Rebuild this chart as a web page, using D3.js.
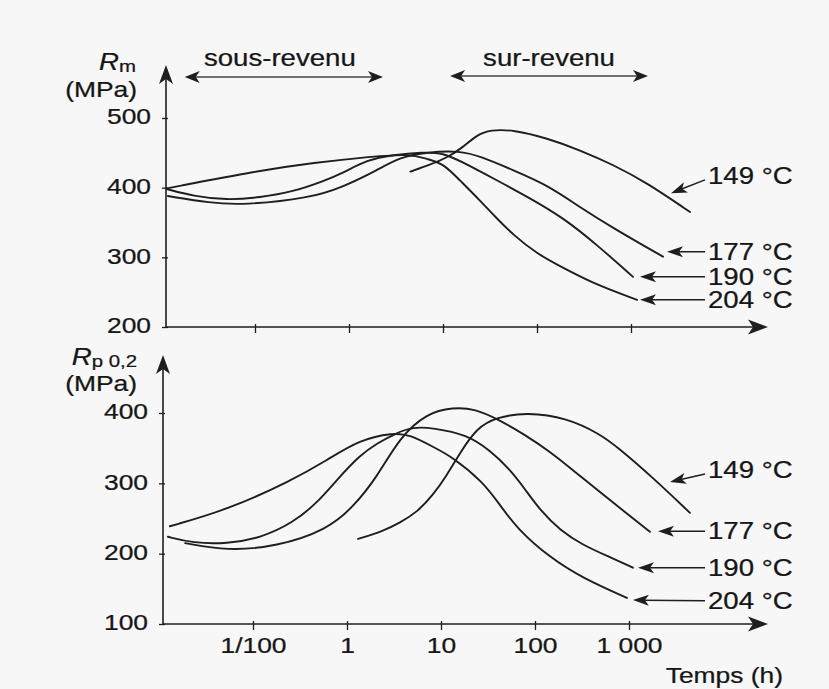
<!DOCTYPE html>
<html><head><meta charset="utf-8">
<script src="https://cdn.jsdelivr.net/npm/d3@7"></script>
<style>
html,body{margin:0;padding:0;background:#f7f7f7;}
svg{display:block;}
text{font-family:"Liberation Sans",Arial,Helvetica,sans-serif;fill:#161616;stroke:#161616;stroke-width:0.25px;}
</style></head><body>
<svg id="chart" width="829" height="689"></svg>
<script>
// ---------- data ----------
const tickTimes = [0.01, 1, 10, 100, 1000];
const tickTimeLabels = ["1/100", "1", "10", "100", "1 000"];
const temperatures = ["149 °C", "177 °C", "190 °C", "204 °C"];
const rmTicks = [200, 300, 400, 500];
const rpTicks = [100, 200, 300, 400];

// Rm (MPa) versus time (h)
const rm149 = [[4.5,423],[7.3,433],[11,443],[16,457],[23,476],[32,483],[56,483],[128,471],[286,454],[644,433],[1480,407],[4250,365]];
const rm177 = [[1.4e-4,388],[1.1e-3,378],[5.6e-3,375],[0.148,385],[0.745,401],[1.99,425],[3.49,444],[6.8,451],[15,453],[25,445],[56,425],[128,404],[286,372],[644,342],[2190,301]];
const rm190 = [[1.34e-4,398],[4.8e-4,388],[2.5e-3,382],[0.0128,386],[0.064,394],[0.3,410],[0.745,421],[1.55,440],[2.94,447],[6.1,451],[10,450],[16,437],[37,411],[84,385],[189,357],[435,318],[1050,272]];
const rm204 = [[1.34e-4,399],[0.0128,425],[0.2,436],[1.31,443],[4.46,449],[6.8,441],[10,435],[15,411],[25,381],[36,358],[56,332],[100,305],[189,285],[435,260],[1160,239]];

// Rp0,2 (MPa) versus time (h)
const rp149 = [[1.31,221],[2.41,232],[3.66,244],[5.56,259],[8.2,283],[11.6,312],[15.9,343],[24,379],[39,394],[82,401],[219,393],[491,370],[745,352],[1800,308],[4450,258]];
const rp177 = [[3.6e-4,215],[2.8e-3,204],[0.032,210],[0.375,234],[1.16,266],[2.09,309],[3.66,366],[7.1,400],[13.4,408],[23,406],[42,390],[78,369],[145,345],[267,316],[491,288],[906,259],[1670,231]];
const rp190 = [[1.55e-4,224],[5.3e-4,215],[2.8e-3,214],[0.0141,222],[0.071,244],[0.23,272],[0.61,305],[1.37,340],[2.09,357],[3.4,372],[5,380],[8.2,379],[19,369],[33,347],[54,320],[78,292],[113,262],[185,233],[324,212],[628,195],[1100,180]];
const rp204 = [[1.7e-4,239],[2.8e-3,262],[0.071,305],[0.375,333],[1.37,362],[3.09,372],[4.68,369],[8.2,352],[13.4,337],[28,302],[42,270],[64,236],[145,194],[324,165],[950,137]];

// label arrows: tip (h, MPa) and label level (MPa)
const rmLabelTips = [[2665,392],[2415,308],[1247,272],[1247,239]];
const rmLabelLevels = [417, 308, 272, 239];
const rpLabelTips = [[2730,302],[2035,232],[1247,180],[1100,134]];
const rpLabelLevels = [319, 232, 180, 133];

// regime ranges (h)
const regimeNames = ["sous-revenu", "sur-revenu"];
const regimeRanges = [[3.2e-4, 2.3], [11.9, 1515]];

// ---------- drawing ----------
const svg = d3.select("#chart");
const INK = "#1e1e1e";
const SX = 1.2; // horizontal stretch of the scanned lettering

function dart(g, x, y, angle, len, hw, notch) {
  g.append("path")
    .attr("d", `M0,0L${-len},${-hw}L${-len + notch},0L${-len},${hw}Z`)
    .attr("transform", `translate(${x},${y}) rotate(${angle})`)
    .attr("fill", INK);
}
function label(g, str, x, y, anchor, size) {
  return g.append("text")
    .attr("transform", `translate(${x},${y}) scale(${SX},1)`)
    .attr("text-anchor", anchor)
    .attr("font-size", size)
    .text(str);
}

const panels = [
  {
    series: [rm149, rm177, rm190, rm204],
    tips: rmLabelTips, levels: rmLabelLevels,
    yDomain: [200, 500], yRange: [327, 118], yTicks: rmTicks,
    xRange: [255, 349, 443, 537, 631],
    axisX: 166, arrowTop: 65, xLabels: false
  },
  {
    series: [rp149, rp177, rp190, rp204],
    tips: rpLabelTips, levels: rpLabelLevels,
    yDomain: [100, 400], yRange: [624, 413], yTicks: rpTicks,
    xRange: [253, 347, 441, 535, 629],
    axisX: 163, arrowTop: 355, xLabels: true
  }
];

const xArrowEnd = 768;
const labelX = 708;

panels.forEach((p, pi) => {
  const g = svg.append("g");
  const x = d3.scaleLog().domain(tickTimes).range(p.xRange);
  const y = d3.scaleLinear().domain(p.yDomain).range(p.yRange);
  const base = p.yRange[0];
  p.x = x; p.y = y;

  // axes lines + arrows
  g.append("line").attr("x1", p.axisX).attr("y1", base).attr("x2", p.axisX).attr("y2", p.arrowTop + 8)
    .attr("stroke", INK).attr("stroke-width", 1.6);
  dart(g, p.axisX, p.arrowTop, -90, 19, 7, 5);
  g.append("line").attr("x1", p.axisX).attr("y1", base).attr("x2", xArrowEnd - 8).attr("y2", base)
    .attr("stroke", INK).attr("stroke-width", 1.6);
  dart(g, xArrowEnd, base, 0, 20, 7.5, 5);

  // y axis ticks
  const ya = g.append("g").attr("transform", `translate(${p.axisX},0)`)
    .call(d3.axisLeft(y).tickValues(p.yTicks).tickSize(4).tickFormat(d3.format("d")));
  ya.select(".domain").remove();
  ya.selectAll(".tick line").attr("x1", 2).attr("stroke", INK).attr("stroke-width", 1.3);
  ya.selectAll(".tick text").attr("x", null).attr("dy", "0.36em")
    .attr("transform", `translate(-15,-2) scale(${SX},1)`)
    .attr("font-size", 22).attr("font-family", null).attr("fill", "#161616");

  // x axis ticks
  const xa = g.append("g").attr("transform", `translate(0,${base})`)
    .call(d3.axisBottom(x).tickValues(tickTimes).tickSize(6)
      .tickFormat((d, i) => p.xLabels ? tickTimeLabels[i] : ""));
  xa.select(".domain").remove();
  xa.selectAll(".tick line").attr("y1", -3).attr("stroke", INK).attr("stroke-width", 1.3);
  xa.selectAll(".tick text").attr("y", 29).attr("dy", null)
    .attr("transform", `scale(${SX},1)`)
    .attr("font-size", 22).attr("font-family", null).attr("fill", "#161616");

  // curves
  const line = d3.line().x(d => x(d[0])).y(d => y(d[1])).curve(d3.curveBasis);
  g.selectAll("path.curve").data(p.series).join("path")
    .attr("class", "curve")
    .attr("d", line)
    .attr("fill", "none").attr("stroke", INK).attr("stroke-width", 1.9)
    .attr("stroke-linejoin", "round").attr("stroke-linecap", "round");

  // temperature labels with arrows
  temperatures.forEach((t, i) => {
    const tipX = x(p.tips[i][0]), tipY = y(p.tips[i][1]);
    const cy = y(p.levels[i]);
    const tailX = labelX - 3, tailY = i === 0 ? cy + 4 : cy;
    const ang = Math.atan2(tipY - tailY, tipX - tailX);
    g.append("line").attr("x1", tailX).attr("y1", tailY)
      .attr("x2", tipX - Math.cos(ang) * 10).attr("y2", tipY - Math.sin(ang) * 10)
      .attr("stroke", INK).attr("stroke-width", 1.5);
    dart(g, tipX, tipY, ang * 180 / Math.PI, 16, 5.5, 4);
    label(g, t, labelX, cy + 8, "start", 23);
  });
});

// regime double arrows above the top panel
const xTop = panels[0].x;
const regimeY = [77, 76];
regimeNames.forEach((name, i) => {
  const x0 = xTop(regimeRanges[i][0]), x1 = xTop(regimeRanges[i][1]);
  const gy = regimeY[i];
  svg.append("line").attr("x1", x0 + 8).attr("y1", gy).attr("x2", x1 - 8).attr("y2", gy)
    .attr("stroke", "#444").attr("stroke-width", 1.3);
  dart(svg, x0, gy, 180, 15, 6, 4);
  dart(svg, x1, gy, 0, 15, 6, 4);
  label(svg, name, (x0 + x1) / 2 - (i === 0 ? 4 : 0), 66, "middle", 23);
});

// axis titles
const t1 = svg.append("text").attr("transform", `translate(136,70) scale(${SX},1)`)
  .attr("text-anchor", "end").attr("font-size", 23);
t1.append("tspan").attr("font-style", "italic").text("R");
t1.append("tspan").attr("font-size", 17).attr("dy", 2).text("m");
label(svg, "(MPa)", 137, 97, "end", 22);

const t2 = svg.append("text").attr("transform", `translate(137,365) scale(${SX},1)`)
  .attr("text-anchor", "end").attr("font-size", 23);
t2.append("tspan").attr("font-style", "italic").text("R");
t2.append("tspan").attr("font-size", 17).attr("dy", 2).text("p 0,2");
label(svg, "(MPa)", 137, 391, "end", 22);

label(svg, "Temps (h)", 783, 683, "end", 22);
</script>
</body></html>
